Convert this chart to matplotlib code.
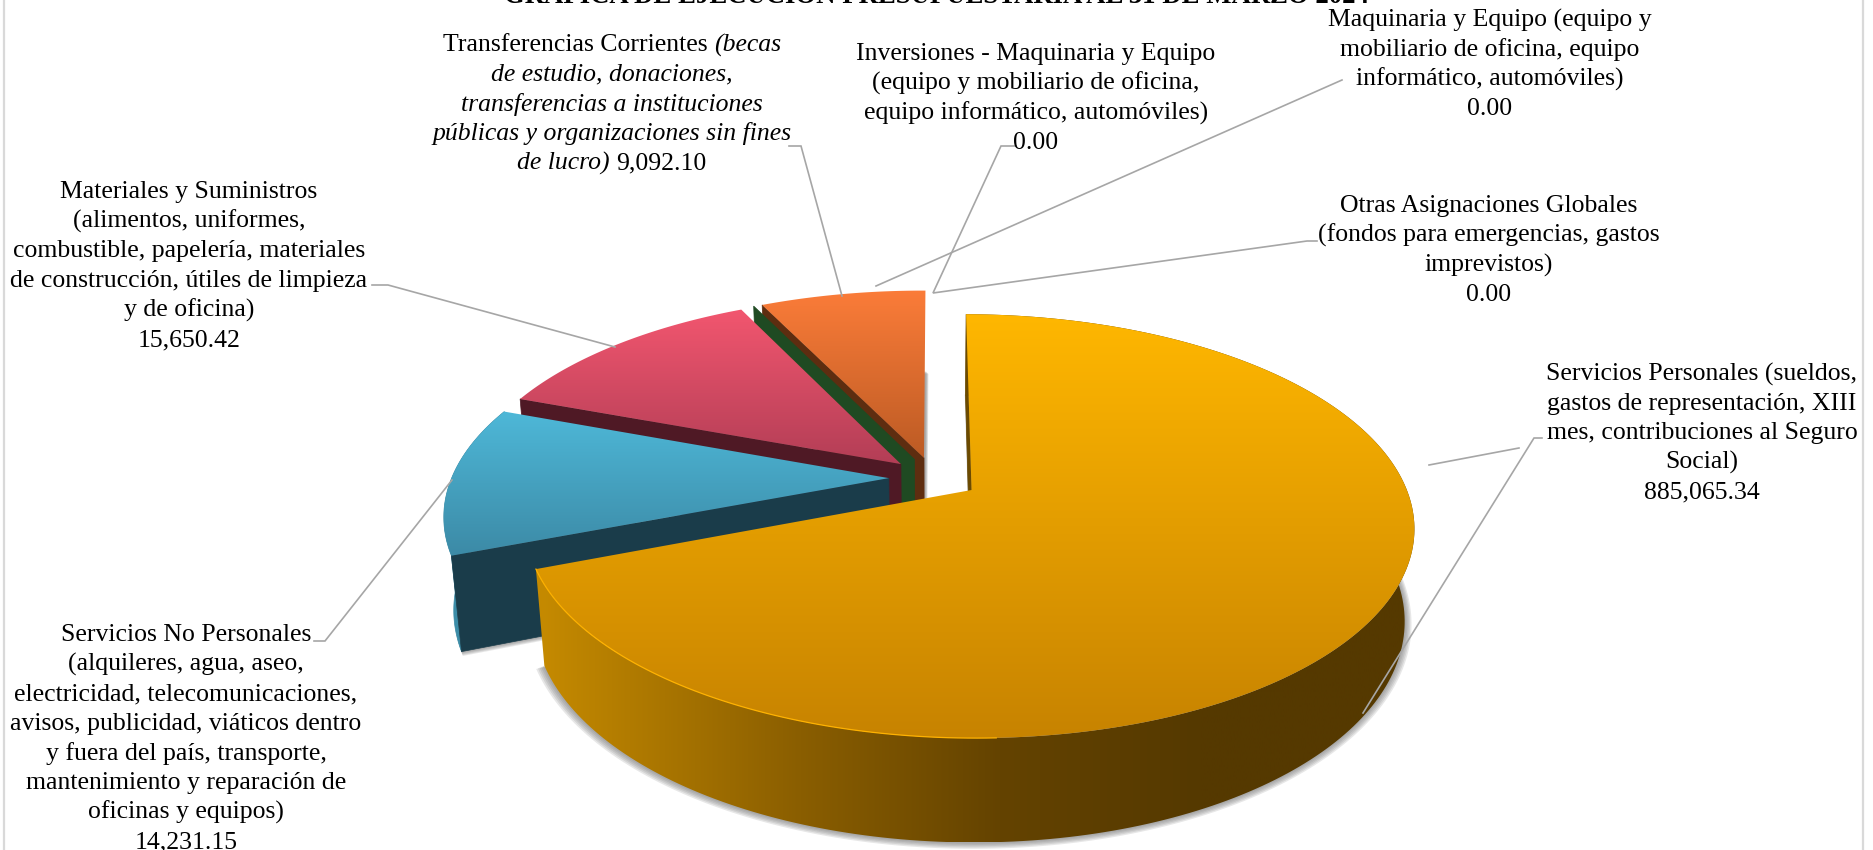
import numpy as np
import matplotlib
matplotlib.use("Agg")
import matplotlib.pyplot as plt
from matplotlib.patches import Polygon
from matplotlib.colors import to_rgb

# ---- data ----
categories = ["Servicios Personales", "Servicios No Personales", "Materiales y Suministros",
              "Maquinaria y Equipo", "Transferencias Corrientes", "Inversiones", "Otras Asignaciones"]
values = [885065.34, 14231.15, 15650.42, 0.00, 9092.10, 0.00, 0.00]
# the drawn slices do not follow the printed values: sweep angles as seen in the picture
drawn_sweep_deg = [249.0, 41.3, 43.7, 0.0, 26.0, 0.0, 0.0]

title = "GRÁFICA DE EJECUCIÓN PRESUPUESTARIA AL 31 DE MARZO 2024"
label_personales = ["Servicios Personales (sueldos,", "gastos de representación, XIII",
                    "mes, contribuciones al Seguro", "Social)"]
label_no_personales = ["Servicios No Personales", "(alquileres, agua, aseo,", "electricidad, telecomunicaciones,",
                       "avisos, publicidad, viáticos dentro", "y fuera del país, transporte,",
                       "mantenimiento y reparación de", "oficinas y equipos)"]
label_materiales = ["Materiales y Suministros", "(alimentos, uniformes,", "combustible, papelería, materiales",
                    "de construcción, útiles de limpieza", "y de oficina)"]
label_maquinaria = ["Maquinaria y Equipo (equipo y", "mobiliario de oficina, equipo", "informático, automóviles)"]
label_inversiones = ["Inversiones - Maquinaria y Equipo", "(equipo y mobiliario de oficina,",
                     "equipo informático, automóviles)"]
label_otras = ["Otras Asignaciones Globales", "(fondos para emergencias, gastos", "imprevistos)"]
label_transfer = [[("Transferencias Corrientes", "normal"), ("(becas", "italic")],
                  [("de estudio, donaciones,", "italic")],
                  [("transferencias a instituciones", "italic")],
                  [("públicas y organizaciones sin fines", "italic")],
                  [("de lucro)", "italic"), ("{v}", "normal")]]

# ---- styles ----
W, H = 1874, 850
FS = 18.5
LH = 29.6
SERIF = "Liberation Serif"
top_cols = [("#FFB700", "#C78300"), ("#4EB8D8", "#3C8AA6"), ("#F2566F", "#B33E56"), None,
            ("#FB7C39", "#BC5B24"), None, None]
wall_cols = ["#6B4A00", "#1A3C4A", "#4F1925", "#1F4A22", "#5E2D10", None, None]
side_stops = [(541, "#C58A00"), (800, "#8A5E00"), (1000, "#644300"), (1200, "#553900"), (1430, "#553900")]
side_cols = [None, "#3C8DA8", None, None, None, None, None]

CX, CY, RX, RY, P, S, Q, D, EXPL = 934, 478, 434, 201.8, 0.169, 0.006, 0.02, 93, 0.104


def project(u, v, z=0.0):
    w = 1 + P * v + S * u + Q * z
    return CX + RX * u / w, CY + (-RY * v + D * z) / w


fig = plt.figure(figsize=(W / 100, H / 100), dpi=100)
ax = fig.add_axes([0, 0, 1, 1])
ax.set_xlim(0, W)
ax.set_ylim(H, 0)
ax.axis("off")

z_now = [5]


def nz():
    z_now[0] += 1
    return z_now[0]


def slice_geom(a0, a1):
    mid = np.radians((a0 + a1) / 2)
    ou, ov = EXPL * np.sin(mid), EXPL * np.cos(mid)
    th = np.radians(np.linspace(a0, a1, 240))
    return ou, ov, ou + np.sin(th), ov + np.cos(th)


def fill_gradient(poly_xy, stops, vertical=True):
    poly = Polygon(poly_xy, closed=True, fc="none", ec="none", zorder=nz())
    ax.add_patch(poly)
    xs, ys = poly_xy[:, 0], poly_xy[:, 1]
    pos, cols = zip(*stops)
    cols = np.array([to_rgb(c) for c in cols])
    if vertical:
        t = np.linspace(ys.min(), ys.max(), 256)
    else:
        t = np.linspace(xs.min(), xs.max(), 512)
    g = np.stack([np.interp(t, pos, cols[:, i]) for i in range(3)], axis=-1)
    g = g[:, None, :] if vertical else g[None, :, :]
    im = ax.imshow(g, extent=(xs.min(), xs.max(), ys.max(), ys.min()), aspect="auto",
                   interpolation="bilinear", zorder=poly.get_zorder())
    im.set_clip_path(poly)


def add_poly(xy, color, **kw):
    ax.add_patch(Polygon(xy, closed=True, fc=color, ec=color, lw=0.5, zorder=nz(), **kw))


def draw_wall(a, ou, ov, color):
    t = np.radians(a)
    ru, rv = ou + np.sin(t), ov + np.cos(t)
    q = [project(ou, ov), project(ru, rv), project(ru, rv, 1), project(ou, ov, 1)]
    add_poly(np.array(q), color)


def draw_shadow(a0, a1, ou, ov, uu, vv):
    bx, by = project(uu, vv, 1)
    ax_, ay_ = project(ou, ov, 1)
    xy = np.column_stack([np.r_[ax_, bx], np.r_[ay_, by]])
    c = xy.mean(axis=0)
    for k in range(1, 6):
        s = 1 + 0.0035 * k
        sh = c + (xy - c) * s + np.array([0.5, 1.0]) * k * 0.6
        ax.add_patch(Polygon(sh, closed=True, fc="#6E6E6E", ec="none", alpha=0.16, zorder=nz()))


# paint back to front: later categories sit behind the earlier ones
starts = np.r_[0, np.cumsum(drawn_sweep_deg)[:-1]]
ends = starts + np.array(drawn_sweep_deg)
for i in [4, 3, 2, 1, 0]:
    a0, a1 = starts[i], ends[i]
    if drawn_sweep_deg[i] == 0:
        # an empty slice is only its wall
        ou, ov = EXPL * np.sin(np.radians(a0)), EXPL * np.cos(np.radians(a0))
        draw_wall(a0, ou, ov, wall_cols[i])
        continue
    ou, ov, uu, vv = slice_geom(a0, a1)
    draw_shadow(a0, a1, ou, ov, uu, vv)
    tx, ty = project(uu, vv)
    bx, by = project(uu, vv, 1)
    side = np.column_stack([np.r_[tx, bx[::-1]], np.r_[ty, by[::-1]]])
    if i == 0:
        fill_gradient(side, side_stops, vertical=False)
    elif side_cols[i]:
        add_poly(side, side_cols[i])
    draw_wall(a0, ou, ov, wall_cols[i])
    ax0, ay0 = project(ou, ov)
    top = np.column_stack([np.r_[ax0, tx], np.r_[ay0, ty]])
    c0, c1 = top_cols[i]
    fill_gradient(top, [(top[:, 1].min(), c0), (top[:, 1].max(), c1)])
    if i == 0:
        # thin highlight along the near-left rim
        th = np.degrees(np.arctan2(uu - ou, vv - ov)) % 360
        m = (th > 178)
        ax.plot(tx[m], ty[m], color="#FFB200", lw=0.9, zorder=nz())

# leader lines
LINE = "#A6A6A6"
leaders = [
    [(1429, 465), (1519, 448)],
    [(1542, 438), (1534, 438), (1363, 713)],
    [(876, 286), (1342, 80)],
    [(1016, 146), (1001, 146), (933, 293), (1307, 241), (1317, 241)],
    [(789, 146), (801, 146), (842, 296)],
    [(372, 285), (388, 285), (615, 347)],
    [(314, 641), (325, 641), (452, 480)],
]
for pts in leaders:
    xs, ys = zip(*pts)
    ax.plot(xs, ys, color=LINE, lw=1.2, zorder=nz(), solid_joinstyle="miter")


def block(cx, y0, lines, value=None):
    txt = list(lines) + ([f"{value:,.2f}"] if value is not None else [])
    for k, s in enumerate(txt):
        ax.text(cx, y0 + k * LH, s, ha="center", va="center", fontsize=FS, family=SERIF,
                color="black", zorder=500)


block(1702, 374, label_personales, values[0])
block(186, 635, label_no_personales, values[1])
block(189, 192, label_materiales, values[2])
block(1490, 20, label_maquinaria, values[3])
block(1036, 54, label_inversiones, values[5])
block(1489, 206, label_otras, values[6])

# Transferencias mixes upright and italic type on one line
fig.canvas.draw()
rend = fig.canvas.get_renderer()
for k, parts in enumerate(label_transfer):
    arts = []
    for s, st in parts:
        s = s.format(v=f"{values[4]:,.2f}")
        arts.append(ax.text(0, 45 + k * LH, s, ha="left", va="center", fontsize=FS, family=SERIF,
                            style=st, color="black", zorder=500))
    widths = [a.get_window_extent(rend).width for a in arts]
    gap = 6.5
    x = 612 - (sum(widths) + gap * (len(arts) - 1)) / 2
    for a, w in zip(arts, widths):
        a.set_x(x)
        x += w + gap

# title, cut off by the top edge in the source
ax.text(936, 3, title, ha="center", va="baseline", fontsize=19.3, fontweight="bold",
        family=SERIF, color="black", zorder=500)

# chart frame
for x in (4, 1863):
    ax.plot([x, x], [0, H], color="#D9D9D9", lw=1.6, zorder=1)

ax.set_xlim(0, W)
ax.set_ylim(H, 0)
fig.savefig("out.png", dpi=100, facecolor="white")
